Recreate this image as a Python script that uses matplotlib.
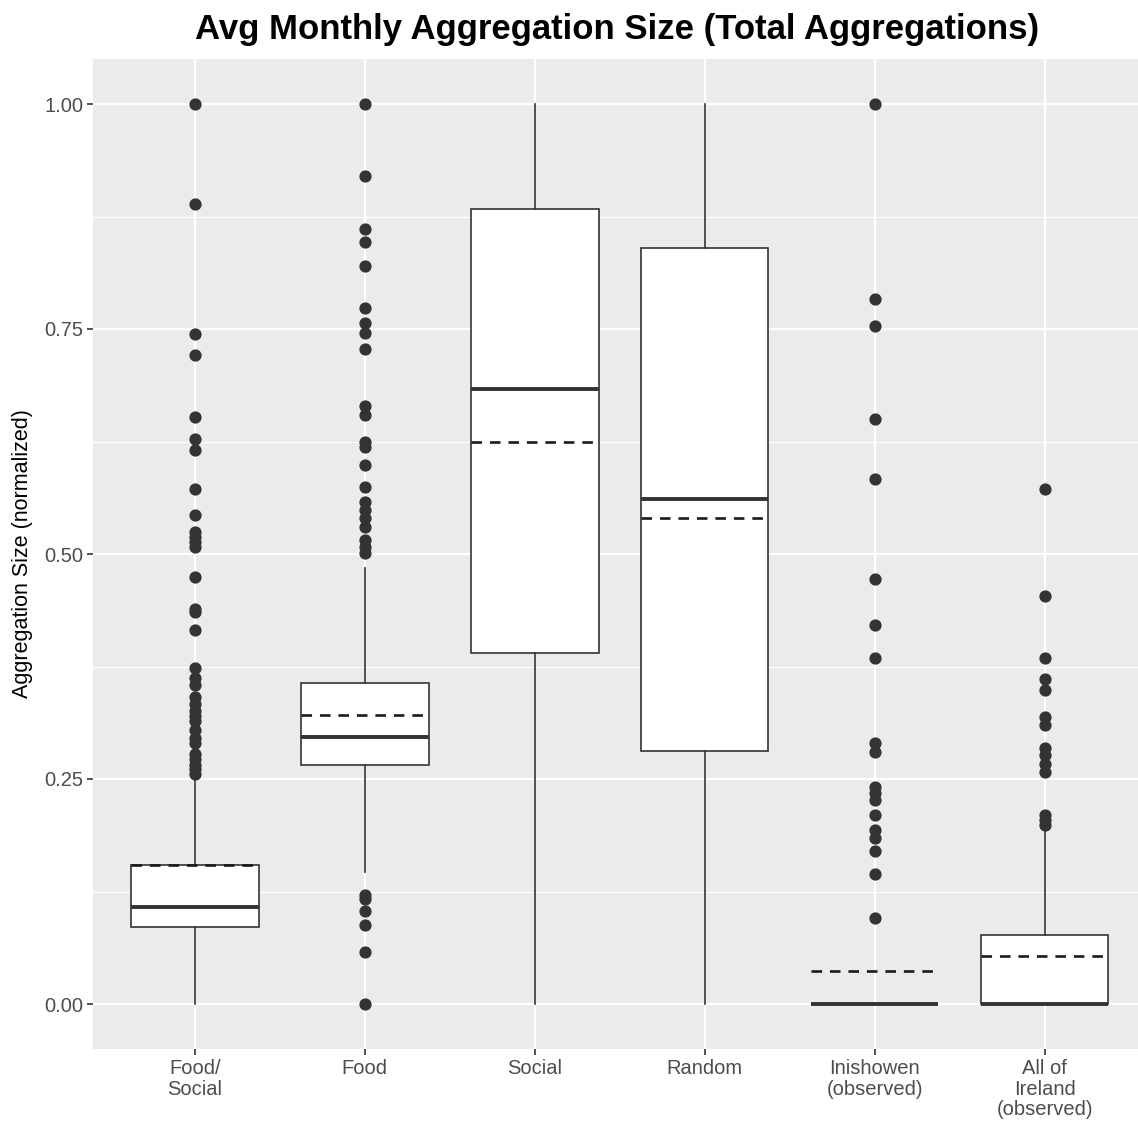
import matplotlib
matplotlib.use("Agg")
import matplotlib.pyplot as plt
from matplotlib.ticker import MultipleLocator

# Categories and tick labels
categories = ["Food/Social", "Food", "Social", "Random", "Inishowen", "All of Ireland"]
tick_labels = ["Food/\nSocial", "Food", "Social", "Random",
               "Inishowen\n(observed)", "All of\nIreland\n(observed)"]

# Box summary statistics (normalized aggregation size)
q1 = [0.086, 0.266, 0.390, 0.281, 0.000, 0.000]
medians = [0.108, 0.297, 0.683, 0.561, 0.000, 0.000]
q3 = [0.154, 0.357, 0.883, 0.840, 0.000, 0.077]
whisker_low = [0.000, 0.147, 0.000, 0.000, 0.000, 0.000]
whisker_high = [0.249, 0.484, 1.000, 1.000, 0.000, 0.193]
means = [0.154, 0.321, 0.624, 0.540, 0.037, 0.053]

# Outliers per category
outliers_food_social = [1.0, 0.889, 0.744, 0.721, 0.652, 0.628, 0.616, 0.572, 0.543,
                        0.525, 0.519, 0.513, 0.508, 0.475, 0.439, 0.436, 0.416, 0.373,
                        0.362, 0.355, 0.341, 0.333, 0.326, 0.320, 0.314, 0.304, 0.296,
                        0.290, 0.278, 0.272, 0.266, 0.261, 0.256]
outliers_food = [1.0, 0.920, 0.861, 0.847, 0.820, 0.773, 0.757, 0.746, 0.728, 0.664,
                 0.655, 0.625, 0.619, 0.599, 0.574, 0.558, 0.549, 0.540, 0.530, 0.516,
                 0.508, 0.501, 0.121, 0.117, 0.103, 0.088, 0.058, 0.0]
outliers_social = []
outliers_random = []
outliers_inishowen = [1.0, 0.783, 0.753, 0.650, 0.583, 0.472, 0.421, 0.385, 0.290,
                      0.280, 0.241, 0.234, 0.227, 0.210, 0.193, 0.185, 0.170, 0.144,
                      0.096]
outliers_ireland = [0.572, 0.453, 0.384, 0.361, 0.349, 0.319, 0.310, 0.284, 0.277,
                    0.267, 0.258, 0.210, 0.204, 0.199]
outliers = [outliers_food_social, outliers_food, outliers_social, outliers_random,
            outliers_inishowen, outliers_ireland]

plt.rcParams['font.family'] = ['Liberation Sans', 'DejaVu Sans']

fig = plt.figure(figsize=(11.38, 11.25), dpi=100)
ax = fig.add_axes([93 / 1138, 76 / 1125, (1138 - 93) / 1138, 990 / 1125])

ink = "#333333"
ax.set_facecolor("#EBEBEB")
for s in ax.spines.values():
    s.set_visible(False)

stats = []
for i, name in enumerate(categories):
    stats.append(dict(label=name, q1=q1[i], med=medians[i], q3=q3[i],
                      whislo=whisker_low[i], whishi=whisker_high[i],
                      fliers=outliers[i]))

positions = list(range(1, len(categories) + 1))
width = 0.75
ax.bxp(stats, positions=positions, widths=width, patch_artist=True,
       showcaps=False, showfliers=True,
       boxprops=dict(facecolor="white", edgecolor=ink, linewidth=1.2),
       whiskerprops=dict(color=ink, linewidth=1.2),
       medianprops=dict(color=ink, linewidth=2.8, solid_capstyle="butt"),
       flierprops=dict(marker="o", markersize=7.8, markerfacecolor=ink,
                       markeredgecolor=ink, linestyle="none"),
       zorder=3)

# Dashed mean lines across each box
for p, m in zip(positions, means):
    ax.hlines(m, p - width / 2, p + width / 2, colors="#1a1a1a", linewidth=1.9,
              linestyles=(0, (4, 3)), zorder=4)

ax.set_xlim(0.4, 6.55)
ax.set_ylim(-0.05, 1.05)
ax.yaxis.set_major_locator(MultipleLocator(0.25))
ax.yaxis.set_minor_locator(MultipleLocator(0.125))
ax.set_yticks([0, 0.25, 0.5, 0.75, 1.0])
ax.set_yticklabels(["0.00", "0.25", "0.50", "0.75", "1.00"])
ax.set_xticks(positions)
ax.set_xticklabels(tick_labels, linespacing=1.12)

ax.grid(True, which="major", color="white", linewidth=1.6, zorder=0)
ax.grid(True, which="minor", axis="y", color="white", linewidth=0.8, zorder=0)
ax.set_axisbelow(True)

ax.tick_params(axis="both", which="major", length=4, width=1.2, color=ink,
               labelcolor="#4D4D4D", labelsize=14.5, pad=3)
ax.tick_params(axis="y", which="minor", length=0)

ax.set_ylabel("Aggregation Size (normalized)", fontsize=15.5, color="black", labelpad=8)
fig.text(617 / 1138, 1 - 30 / 1125, "Avg Monthly Aggregation Size (Total Aggregations)",
         ha="center", va="center", fontsize=25, fontweight="bold")

fig.savefig("out.png", dpi=100)
